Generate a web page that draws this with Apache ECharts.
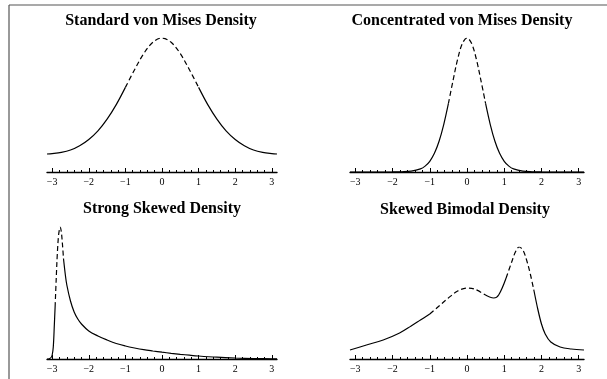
<!DOCTYPE html>
<html><head><meta charset="utf-8">
<script src="https://cdn.jsdelivr.net/npm/echarts@6/dist/echarts.min.js"></script>
<style>html,body{margin:0;padding:0;background:#fff}#c{width:607px;height:379px}</style>
</head><body><div id="c"></div><script>
// ---- data ----
const titles = ['Standard von Mises Density', 'Concentrated von Mises Density', 'Strong Skewed Density', 'Skewed Bimodal Density'];
const majorTicks = [-3, -2, -1, 0, 1, 2, 3];
const minorTicks = [-3.0,-2.8,-2.6,-2.4,-2.2,-2.0,-1.8,-1.6,-1.4,-1.2,-1.0,-0.8,-0.6,-0.4,-0.2,0,0.2,0.4,0.6,0.8,1.0,1.2,1.4,1.6,1.8,2.0,2.2,2.4,2.6,2.8,3.0];

const stdX = [-3.1416,-3,-2.75,-2.5,-2.25,-2,-1.75,-1.5,-1.25,-1,-0.75,-0.5,-0.25,0,0.25,0.5,0.75,1,1.25,1.5,1.75,2,2.25,2.5,2.75,3,3.1416];
const stdY = [0.046,0.047,0.050,0.056,0.067,0.083,0.105,0.135,0.172,0.216,0.261,0.302,0.331,0.342,0.331,0.302,0.261,0.216,0.172,0.135,0.105,0.083,0.067,0.056,0.050,0.047,0.046];
const stdDash = [-1, 1];

const conX = [-3.1416,-2.5,-2,-1.75,-1.5,-1.25,-1.125,-1,-0.875,-0.75,-0.625,-0.5,-0.375,-0.25,-0.125,0,0.125,0.25,0.375,0.5,0.625,0.75,0.875,1,1.125,1.25,1.5,1.75,2,2.5,3.1416];
const conY = [0,0,0.0004,0.0014,0.0055,0.021,0.040,0.073,0.127,0.209,0.323,0.465,0.622,0.769,0.874,0.912,0.874,0.769,0.622,0.465,0.323,0.209,0.127,0.073,0.040,0.021,0.0055,0.0014,0.0004,0,0];
const conDash = [-0.5, 0.5];

const skwX = [-3.1416,-3.08,-3.03,-3.0,-2.97,-2.94,-2.92,-2.89,-2.86,-2.83,-2.80,-2.78,-2.75,-2.72,-2.69,-2.64,-2.6,-2.5,-2.4,-2.3,-2.2,-2.0,-1.75,-1.5,-1.25,-1.0,-0.75,-0.5,-0.25,0,0.25,0.5,0.75,1.0,1.5,2.0,2.5,3.0,3.1416];
const skwY = [0,0.003,0.015,0.04,0.12,0.35,0.52,0.80,1.05,1.22,1.30,1.32,1.27,1.15,1.00,0.84,0.74,0.58,0.47,0.40,0.35,0.28,0.23,0.19,0.155,0.13,0.11,0.093,0.08,0.068,0.057,0.047,0.038,0.03,0.018,0.01,0.005,0.002,0.001];
const skwDash = [-2.92, -2.69];

const bimX = [-3.1416,-2.7,-2.25,-1.81,-1.5,-1.25,-1,-0.75,-0.5,-0.25,0,0.2,0.45,0.72,0.85,1.05,1.2,1.3,1.4,1.5,1.6,1.7,1.8,1.9,2.0,2.1,2.25,2.5,2.8,3.1416];
const bimY = [0.036,0.056,0.076,0.104,0.132,0.156,0.18,0.212,0.244,0.272,0.284,0.28,0.26,0.244,0.256,0.324,0.388,0.428,0.448,0.436,0.396,0.34,0.272,0.2,0.14,0.1,0.068,0.048,0.04,0.036];
const bimDash = [[-1, 0.45], [1.05, 1.8]];

// ---- layout ----
const grids = [
  {left: 47, right: 330, top: 38, bottom: 207},
  {left: 350, right: 23, top: 38, bottom: 207},
  {left: 47, right: 330, top: 227, bottom: 20},
  {left: 350, right: 23, top: 247, bottom: 20}
];
const titlePos = [[161, 13], [462, 13], [162, 201], [465, 202]];
const panels = [
  {x: stdX, y: stdY, dash: [stdDash]},
  {x: conX, y: conY, dash: [conDash]},
  {x: skwX, y: skwY, dash: [skwDash]},
  {x: bimX, y: bimY, dash: bimDash}
];

const font = 'Liberation Serif';
const xAxis = [], yAxis = [], series = [];
panels.forEach((p, i) => {
  xAxis.push({
    type: 'value', gridIndex: i, min: -3.1416, max: 3.1416, position: 'bottom',
    splitLine: {show: false},
    axisLine: {show: true, onZero: false, lineStyle: {color: '#000', width: 1.4}},
    axisTick: {show: true, inside: true, length: 4, customValues: majorTicks, lineStyle: {color: '#000', width: 1}},
    axisLabel: {show: true, customValues: majorTicks, margin: 5, fontFamily: font, fontSize: 10, color: '#000',
      formatter: v => String(v).replace('-', '\u2212')}
  });
  xAxis.push({
    type: 'value', gridIndex: i, min: -3.1416, max: 3.1416, position: 'bottom',
    splitLine: {show: false},
    axisLine: {show: false, onZero: false},
    axisTick: {show: true, inside: true, length: 2, customValues: minorTicks, lineStyle: {color: '#000', width: 1}},
    axisLabel: {show: false}
  });
  const ymax = Math.max.apply(null, p.y);
  yAxis.push({type: 'value', gridIndex: i, min: 0, max: ymax, show: false, splitLine: {show: false}});
  const pts = p.x.map((x, k) => [x, p.y[k]]);
  const bounds = [-10];
  p.dash.forEach(d => { bounds.push(d[0], d[1]); });
  bounds.push(10);
  for (let s = 0; s < bounds.length - 1; s++) {
    const a = bounds[s], b = bounds[s + 1];
    const seg = pts.filter(q => q[0] >= a - 1e-9 && q[0] <= b + 1e-9);
    const dashed = s % 2 === 1;
    series.push({
      type: 'line', xAxisIndex: 2 * i, yAxisIndex: i, data: seg, smooth: 0.35,
      showSymbol: false, silent: true, animation: false,
      lineStyle: {color: '#000', width: 1.2, type: dashed ? [5, 3] : 'solid'}
    });
  }
});

const chart = echarts.init(document.getElementById('c'), null, {renderer: 'canvas'});
chart.setOption({
  animation: false,
  backgroundColor: '#fff',
  grid: grids,
  title: titles.map((t, i) => ({
    text: t, left: titlePos[i][0], top: titlePos[i][1], textAlign: 'center', padding: 0,
    textStyle: {fontFamily: font, fontWeight: 'bold', fontSize: 16, color: '#000'}
  })),
  xAxis: xAxis,
  yAxis: yAxis,
  series: series,
  graphic: [
    {type: 'line', shape: {x1: 9, y1: 5, x2: 607, y2: 5}, style: {stroke: '#555', lineWidth: 1.2}},
    {type: 'line', shape: {x1: 9, y1: 5, x2: 9, y2: 379}, style: {stroke: '#555', lineWidth: 1.2}}
  ]
});
</script></body></html>
